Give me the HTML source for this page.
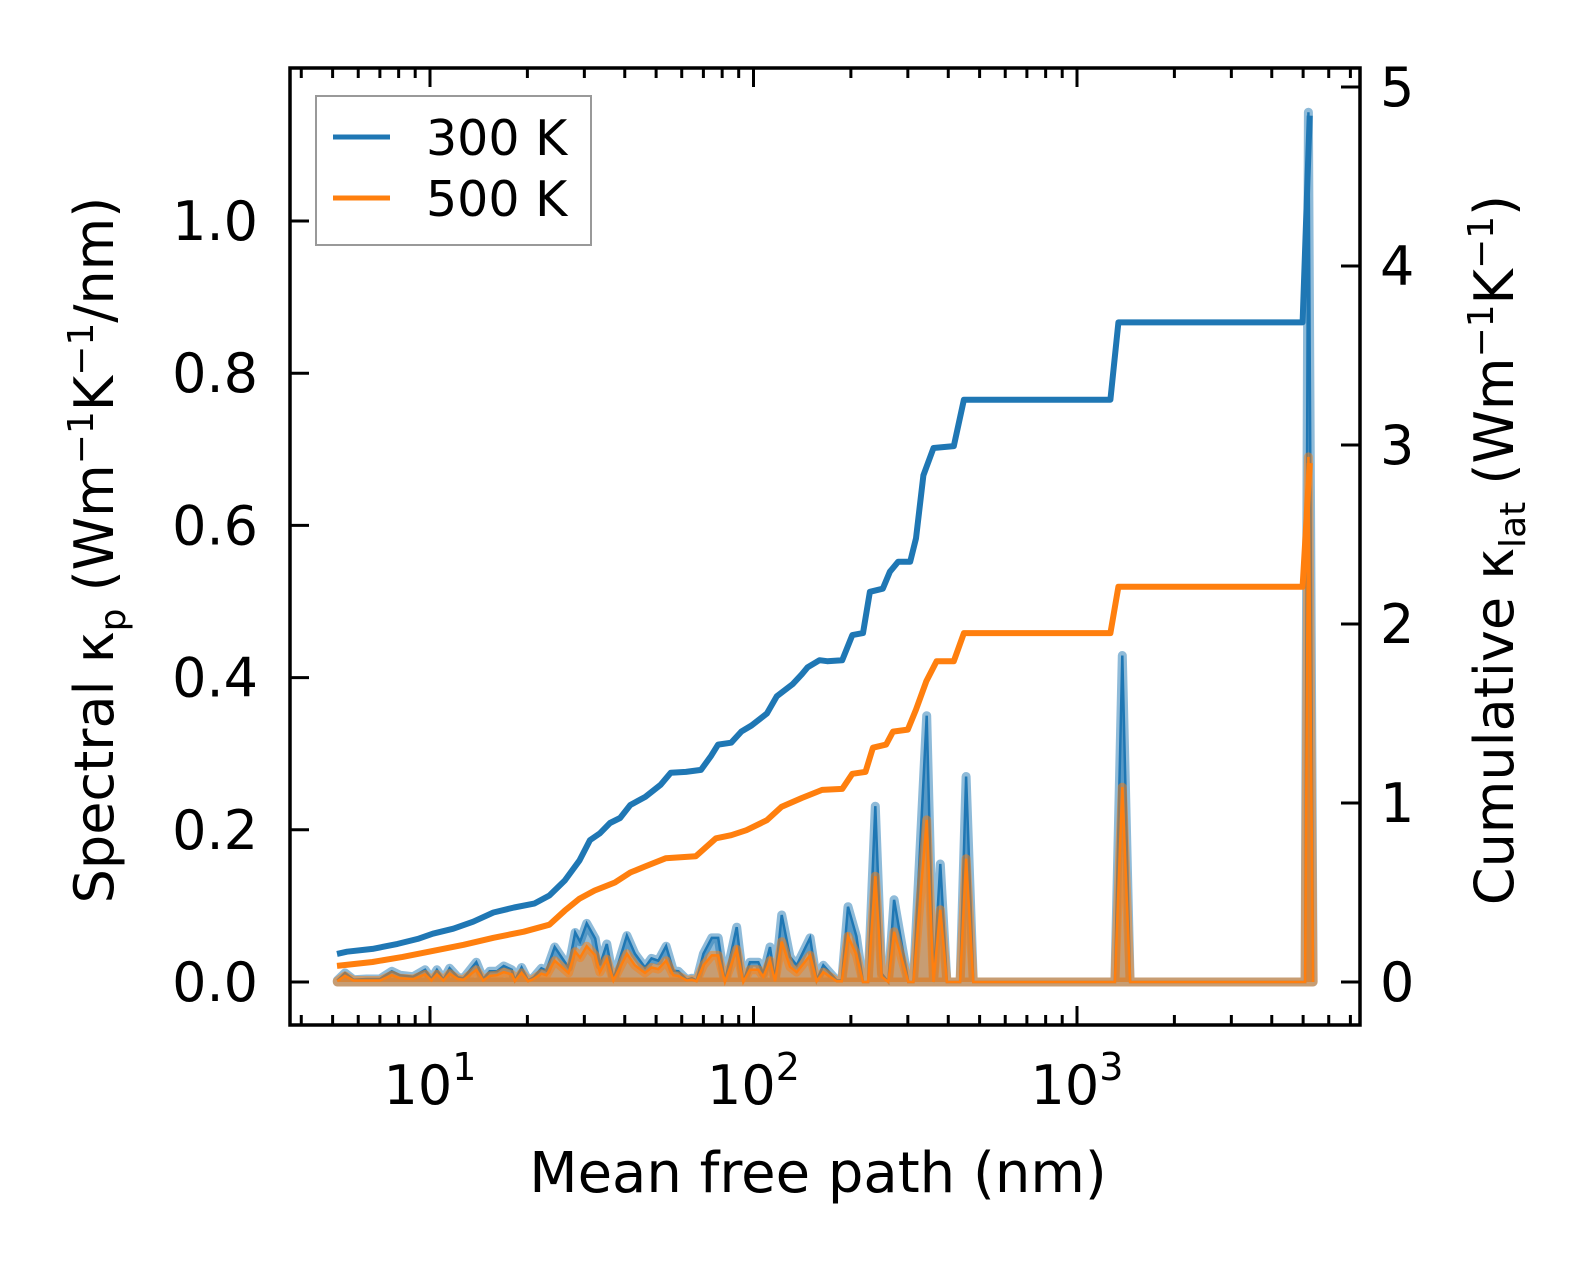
<!DOCTYPE html>
<html><head><meta charset="utf-8"><style>
html,body{margin:0;padding:0;background:#fff}
svg{display:block}
text{font-family:"DejaVu Sans","Liberation Sans",sans-serif;fill:#000}
</style></head><body>
<svg id="chart" width="1586" height="1264" viewBox="0 0 1586 1264" xmlns="http://www.w3.org/2000/svg">
<rect x="0" y="0" width="1586" height="1264" fill="#fff"/>
<g id="marks"></g>
<g id="axes"></g>
<text x="818" y="1192" font-size="56" text-anchor="middle">Mean free path (nm)</text>
<text transform="translate(113,550) rotate(-90)" font-size="54" text-anchor="middle">Spectral κ<tspan font-size="36" dy="12">p</tspan><tspan dy="-12"> (Wm</tspan><tspan font-size="36" dy="-20">−1</tspan><tspan dy="20">K</tspan><tspan font-size="36" dy="-20">−1</tspan><tspan dy="20">/nm)</tspan></text>
<text transform="translate(1513,550) rotate(-90)" font-size="54" text-anchor="middle">Cumulative κ<tspan font-size="36" dy="12">lat</tspan><tspan dy="-12"> (Wm</tspan><tspan font-size="36" dy="-20">−1</tspan><tspan dy="20">K</tspan><tspan font-size="36" dy="-20">−1</tspan><tspan dy="20">)</tspan></text>
<g>
<rect x="316" y="96" width="275" height="149" fill="#fff" fill-opacity="0.8" stroke="#999" stroke-width="2"/>
<line x1="333" y1="137" x2="390" y2="137" stroke="#1f77b4" stroke-width="5"/>
<text x="426" y="155" font-size="49">300 K</text>
<line x1="333" y1="198" x2="390" y2="198" stroke="#ff7f0e" stroke-width="5"/>
<text x="426" y="216" font-size="49">500 K</text>
</g>
</svg>
<script>
// ---- data ----
const specMfp = [5.17,5.46,5.80,6.37,7.0,7.62,8.07,8.87,9.66,10.1,10.5,11.0,11.5,12.2,12.7,13.9,14.6,15.3,16.1,16.9,17.9,18.3,19.2,20.1,20.9,22.1,22.9,24.3,26.8,28.1,29.1,30.5,32.4,33.5,35.2,36.9,40.6,43.0,46.2,48.4,50.8,53.7,56.5,58.6,62.2,64.5,66.7,70.0,74.3,77.8,81.6,88.7,93.0,97.5,103.5,107.2,112.5,116.5,122.2,129.7,136.0,149.6,156.8,164.4,180.8,187.5,196,208,218,226,238,249,261,272,301,312,343,360,378,396,435,454,478,1310,1380,1459,5070,5190,5370];
const spec300 = [0.002,0.012,0.003,0.004,0.004,0.014,0.009,0.007,0.016,0.004,0.016,0.003,0.018,0.006,0.005,0.026,0.004,0.014,0.014,0.021,0.016,0.002,0.019,0.002,0.006,0.018,0.015,0.046,0.019,0.065,0.053,0.077,0.057,0.022,0.050,0.003,0.061,0.037,0.019,0.031,0.028,0.047,0.015,0.014,0.003,0.005,0.002,0.037,0.058,0.058,0.0,0.072,0.0,0.026,0.026,0.011,0.046,0.002,0.088,0.033,0.022,0.058,0.002,0.022,0.002,0.002,0.099,0.060,0,0,0.231,0.011,0,0.108,0,0,0.350,0,0.155,0,0,0.270,0,0,0.429,0,0,1.143,0];
const spec500 = [0.001,0.008,0.002,0.002,0.002,0.009,0.005,0.004,0.010,0.002,0.010,0.002,0.011,0.004,0.003,0.016,0.002,0.008,0.009,0.013,0.010,0.001,0.012,0.001,0.004,0.011,0.009,0.028,0.012,0.040,0.032,0.047,0.035,0.013,0.030,0.002,0.037,0.022,0.012,0.019,0.017,0.028,0.009,0.008,0.002,0.003,0.001,0.022,0.035,0.035,0.0,0.043,0.0,0.016,0.016,0.007,0.028,0.001,0.053,0.020,0.013,0.035,0.001,0.013,0.001,0.001,0.060,0.036,0,0,0.139,0.007,0,0.066,0,0,0.213,0,0.095,0,0,0.162,0,0,0.256,0,0,0.69,0];
const cum300Mfp = [5.16,5.54,6.64,7.94,9.17,10.2,11.8,13.6,15.7,18.2,21.0,23.4,26.1,29.0,31.2,33.5,36.0,38.7,41.6,46.3,51.6,55.5,61.8,68.8,74.0,77.7,85.3,91.7,98.6,110,118,132,141,147,160,169,188,202,218,229,251,264,280,305,318,335,360,416,447,1268,1343,4980,5240];
const cum300 = [0.157,0.169,0.185,0.213,0.241,0.270,0.298,0.337,0.388,0.416,0.438,0.483,0.567,0.680,0.792,0.831,0.888,0.916,0.989,1.034,1.101,1.169,1.174,1.185,1.264,1.326,1.337,1.399,1.433,1.500,1.596,1.663,1.719,1.758,1.798,1.792,1.798,1.938,1.949,2.180,2.197,2.292,2.348,2.348,2.478,2.831,2.983,2.994,3.253,3.253,3.685,3.685,4.84];
const cum500Mfp = [5.16,6.64,8.23,10.2,12.7,15.7,19.5,23.4,26.1,29.0,32.3,37.3,41.6,46.3,53.5,66.3,76.6,85.3,95.1,110,122,141,163,188,202,222,234,257,270,300,318,342,368,416,447,1268,1343,4980,5240];
const cum500 = [0.090,0.112,0.140,0.174,0.208,0.247,0.281,0.320,0.399,0.466,0.511,0.556,0.612,0.646,0.691,0.702,0.803,0.820,0.848,0.904,0.978,1.028,1.073,1.079,1.163,1.174,1.309,1.326,1.399,1.410,1.522,1.680,1.792,1.792,1.949,1.949,2.208,2.208,2.899];
const leftTicks = [0.0,0.2,0.4,0.6,0.8,1.0];
const leftTickLabels = ["0.0","0.2","0.4","0.6","0.8","1.0"];
const rightTicks = [0,1,2,3,4,5];
const rightTickLabels = ["0","1","2","3","4","5"];
const xMajor = [1,2,3];

// ---- axes ----
const L=290,R=1360,T=68,B=1025;
const X0=430, DEC=323.5;
function xs(v){return X0+(Math.log10(v)-1)*DEC;}
function yl(v){return 982-v*761;}
function yr(v){return 982-v*179;}
const NS="http://www.w3.org/2000/svg";
function mk(tag,attrs,parent){const e=document.createElementNS(NS,tag);for(const k in attrs)e.setAttribute(k,attrs[k]);parent.appendChild(e);return e;}
const marks=document.getElementById('marks');
const axes=document.getElementById('axes');

function pts(xa,ya,yf){return xa.map((m,i)=>xs(m).toFixed(1)+','+yf(ya[i]).toFixed(1));}
function areaPath(xa,ya){const p=pts(xa,ya,yl);return 'M'+xs(xa[0]).toFixed(1)+','+yl(0)+' L'+p.join(' L')+' L'+xs(xa[xa.length-1]).toFixed(1)+','+yl(0)+' Z';}

let e;
e=mk('path',{d:areaPath(specMfp,spec300),fill:'#1f77b4','fill-opacity':0.5,stroke:'#1f77b4','stroke-opacity':0.5,'stroke-width':9,'stroke-linejoin':'round'},marks);


e=mk('polyline',{points:pts(specMfp,spec300,yl).join(' '),fill:'none',stroke:'#1f77b4','stroke-width':2.5},marks);


e=mk('path',{d:areaPath(specMfp,spec500),fill:'#ff7f0e','fill-opacity':0.5,stroke:'#ff7f0e','stroke-opacity':0.5,'stroke-width':9,'stroke-linejoin':'round'},marks);


e=mk('polyline',{points:pts(specMfp,spec500,yl).join(' '),fill:'none',stroke:'#ff7f0e','stroke-width':2.5},marks);


e=mk('polyline',{points:pts(cum300Mfp,cum300,yr).join(' '),fill:'none',stroke:'#1f77b4','stroke-width':6,'stroke-linejoin':'round'},marks);


e=mk('polyline',{points:pts(cum500Mfp,cum500,yr).join(' '),fill:'none',stroke:'#ff7f0e','stroke-width':6,'stroke-linejoin':'round'},marks);



e=mk('rect',{x:L,y:T,width:R-L,height:B-T,fill:'none',stroke:'#000','stroke-width':3.5},axes);



for(let d=0;d<=3;d++){
  for(let m=1;m<10;m++){
    const v=m*Math.pow(10,d);
    const x=xs(v);
    if(x<L+1||x>R-1)continue;
    const len=(m===1)?19:10;
    e=mk('line',{x1:x,y1:B,x2:x,y2:B-len,stroke:'#000','stroke-width':3},axes);
    
    
    e=mk('line',{x1:x,y1:T,x2:x,y2:T+len,stroke:'#000','stroke-width':3},axes);
    
    
  }
}
xMajor.forEach(p=>{
  const x=xs(Math.pow(10,p));
  const t=mk('text',{x:x,y:1104,'font-size':54,'text-anchor':'middle'},axes);
  
  
  t.appendChild(document.createTextNode('10'));
  const s=mk('tspan',{'font-size':38,dy:-24},t);
  s.textContent=String(p);
});
leftTicks.forEach((v,i)=>{
  const y=yl(v);
  e=mk('line',{x1:L,y1:y,x2:L+19,y2:y,stroke:'#000','stroke-width':3},axes);
  
  
  const t=mk('text',{x:258,y:y+19,'font-size':54,'text-anchor':'end'},axes);
  
  
  t.textContent=leftTickLabels[i];
});
rightTicks.forEach((v,i)=>{
  const y=yr(v);
  e=mk('line',{x1:R,y1:y,x2:R-19,y2:y,stroke:'#000','stroke-width':3},axes);
  
  
  const t=mk('text',{x:1380,y:y+19,'font-size':54,'text-anchor':'start'},axes);
  
  
  t.textContent=rightTickLabels[i];
});
</script>
</body></html>
